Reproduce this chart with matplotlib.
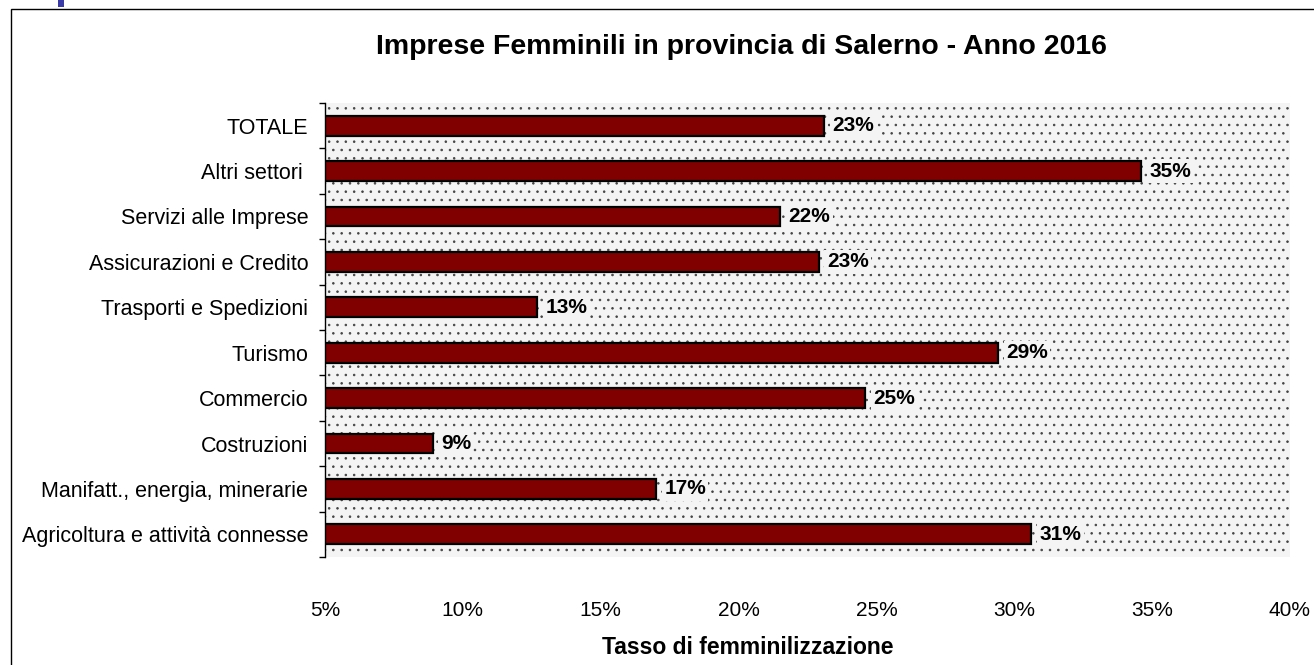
import matplotlib
matplotlib.use("Agg")
import matplotlib.pyplot as plt
from matplotlib.patches import Rectangle
from matplotlib.ticker import FuncFormatter, FixedLocator
import numpy as np

# ---- data (bottom to top) ----
categories = [
    "Agricoltura e attività connesse",
    "Manifatt., energia, minerarie",
    "Costruzioni",
    "Commercio",
    "Turismo",
    "Trasporti e Spedizioni",
    "Assicurazioni e Credito",
    "Servizi alle Imprese",
    "Altri settori ",
    "TOTALE",
]
values = [30.6, 17.0, 8.9, 24.6, 29.4, 12.7, 22.9, 21.5, 34.6, 23.1]
x_ticks = [5, 10, 15, 20, 25, 30, 35, 40]
title = "Imprese Femminili in provincia di Salerno - Anno 2016"
xlabel = "Tasso di femminilizzazione"

plt.rcParams['font.family'] = ['Liberation Sans', 'DejaVu Sans']
plt.rcParams['hatch.linewidth'] = 0.6

W, H = 1314, 665
fig = plt.figure(figsize=(W / 100, H / 100), dpi=100)
fig.patch.set_facecolor("white")

# outer frame (continues beyond right/bottom edges)
fig.patches.append(Rectangle((10.5 / W, -0.05), 1.2, 1 - 9.5 / H + 0.05,
                             transform=fig.transFigure, fill=False,
                             edgecolor="black", linewidth=1.0))
# small blue mark at top-left
fig.patches.append(Rectangle((58 / W, 1 - 7 / H), 6 / W, 7 / H,
                             transform=fig.transFigure, facecolor="#3a3aa8",
                             edgecolor="none"))

left, right = 325 / W, 1290 / W
bottom, top = 1 - 557 / H, 1 - 103 / H
ax = fig.add_axes([left, bottom, right - left, top - bottom])
ax.set_facecolor("#f4f4f4")
ax.add_patch(Rectangle((0, 0), 1, 1, transform=ax.transAxes,
                       facecolor="#f4f4f4", edgecolor="#444444",
                       hatch="..", linewidth=0, zorder=0))

y = np.arange(len(categories))
ax.barh(y, values, left=0, height=0.44, color="#800000",
        edgecolor="black", linewidth=1.6, zorder=3)

ax.set_xlim(5, 40)
ax.set_ylim(-0.5, len(categories) - 0.5)

for yi, v in zip(y, values):
    ax.annotate(f"{round(v)}%", xy=(v, yi), xytext=(6, 0),
                textcoords="offset points", ha="left", va="center",
                fontsize=15, fontweight="bold", color="black", zorder=5,
                bbox=dict(boxstyle="square,pad=0.12", facecolor="#f4f4f4",
                          edgecolor="none"))

ax.set_xticks(x_ticks)
ax.xaxis.set_major_formatter(FuncFormatter(lambda v, p: f"{v:.0f}%"))
ax.tick_params(axis="x", length=0, pad=32, labelsize=15)

ax.set_yticks(y)
ax.set_yticklabels(categories, fontsize=15.5)
ax.tick_params(axis="y", which="major", length=0, pad=12)
ax.yaxis.set_minor_locator(FixedLocator(np.arange(-0.5, len(categories), 1.0)))
ax.tick_params(axis="y", which="minor", length=4.5, width=1.0, direction="out")

for s in ["top", "right", "bottom"]:
    ax.spines[s].set_visible(False)
ax.spines["left"].set_linewidth(1.0)
ax.spines["left"].set_zorder(6)

fig.text(741 / W, 1 - 47 / H, title, ha="center", va="center",
         fontsize=20.5, fontweight="bold")
fig.text(748 / W, 1 - 648 / H, xlabel, ha="center", va="center",
         fontsize=16.5, fontweight="bold")

fig.savefig("out.png", dpi=100)
